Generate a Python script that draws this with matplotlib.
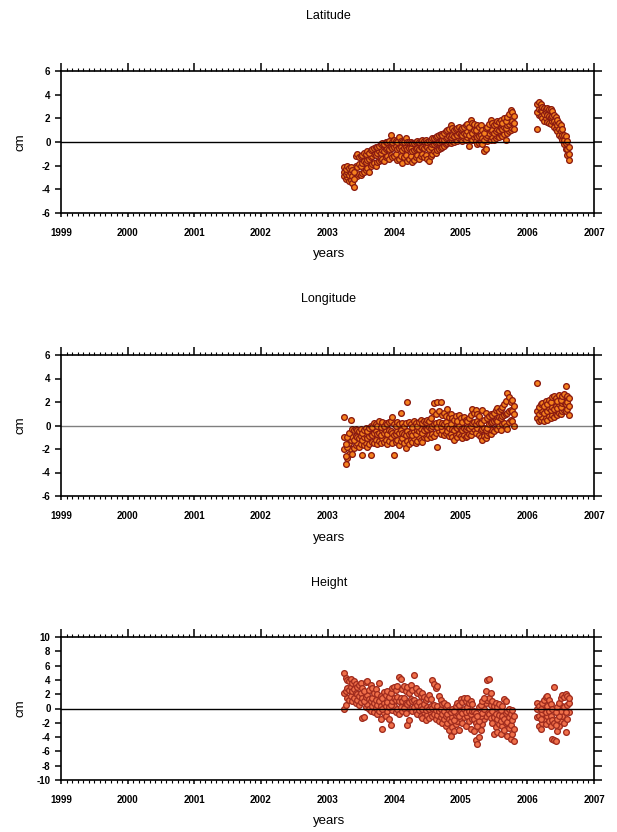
import numpy as np
import matplotlib
matplotlib.use("Agg")
import matplotlib.pyplot as plt
from matplotlib.ticker import MultipleLocator

plt.rcParams['font.family'] = ['Liberation Sans', 'DejaVu Sans']
plt.rcParams['axes.unicode_minus'] = False

# ---------------- data (decimal years, cm) ----------------
t_a = [2003.250 + 0.025 * i for i in range(103)]   # 2003.25 .. 2005.80
t_b = [2006.150 + 0.025 * i for i in range(20)]    # 2006.15 .. 2006.625

lat_a_low = [-2.9,-3.1,-3.0,-3.3,-3.2,-3.5,-3.8,-2.8,-2.9,-2.7,
             -2.8,-2.6,-2.5,-2.4,-2.2,-2.5,-2.0,-1.9,-1.8,-2.0,
             -1.7,-1.6,-1.5,-1.4,-1.6,-1.3,-1.2,-1.4,-1.1,-1.3,
             -1.2,-1.0,-1.5,-1.4,-1.2,-1.8,-1.3,-1.1,-1.6,-1.4,
             -1.2,-1.7,-1.5,-1.3,-1.1,-1.4,-1.2,-1.0,-1.3,-1.1,
             -1.4,-1.6,-1.2,-1.0,-0.8,-0.9,-0.7,-0.6,-0.5,-0.4,
             -0.3,-0.2,-0.1,0.0,-0.1,0.1,0.0,0.2,0.1,0.3,
             0.2,0.1,0.3,0.2,0.4,-0.3,0.3,0.2,0.4,0.1,
             -0.2,-0.1,0.0,-0.2,-0.8,-0.6,0.1,0.3,0.2,0.4,
             0.2,0.3,0.5,0.4,0.6,0.5,0.7,0.2,0.8,0.9,
             1.0,1.2,1.1]
lat_a_mid = [-2.5,-2.7,-2.5,-2.8,-2.6,-2.9,-3.1,-2.0,-2.1,-1.9,
             -2.0,-1.8,-1.6,-1.7,-1.5,-1.4,-1.3,-1.2,-1.0,-1.1,
             -0.9,-0.8,-0.9,-0.7,-0.8,-0.6,-0.5,-0.6,-0.4,-0.5,
             -0.4,-0.3,-0.6,-0.5,-0.4,-0.7,-0.5,-0.4,-0.6,-0.5,
             -0.5,-0.8,-0.7,-0.6,-0.5,-0.6,-0.4,-0.4,-0.5,-0.3,
             -0.4,-0.6,-0.4,-0.2,-0.2,-0.1,0.0,0.0,0.1,0.2,
             0.2,0.3,0.4,0.5,0.4,0.6,0.5,0.7,0.6,0.8,
             0.7,0.6,0.8,0.7,0.9,0.6,1.0,0.8,1.0,0.5,
             0.4,0.5,0.6,0.3,0.2,0.4,0.6,0.8,0.9,1.0,
             0.8,0.9,1.1,1.0,1.2,1.1,1.3,1.2,1.4,1.5,
             1.7,1.8,1.6]
lat_a_high = [-2.1,-2.3,-2.0,-2.2,-2.1,-2.4,-2.5,-1.2,-1.0,-1.3,
              -1.2,-1.1,-0.9,-1.0,-0.8,-0.9,-0.7,-0.6,-0.5,-0.4,
              -0.4,-0.3,-0.2,-0.1,-0.2,0.0,0.0,0.1,0.6,0.0,
              0.2,0.1,0.0,0.4,0.1,0.0,0.0,0.3,0.0,0.0,
              0.0,-0.1,-0.1,0.0,0.1,0.0,0.1,0.2,0.1,0.2,
              0.0,0.1,0.2,0.3,0.3,0.4,0.5,0.6,0.7,0.6,
              0.8,0.9,1.0,1.1,1.4,1.2,1.0,1.1,1.2,1.3,
              1.1,1.2,1.3,1.4,1.5,1.3,1.9,1.6,1.5,1.0,
              1.4,1.3,1.4,1.0,0.8,1.2,1.3,1.5,1.9,1.6,
              1.4,1.5,1.8,1.7,1.9,1.6,2.0,1.8,2.1,2.4,
              2.7,2.5,2.2]
lat_b_low = [1.1,2.3,2.2,2.0,1.8,2.0,1.7,1.6,1.5,1.8,
             1.3,1.1,0.9,0.6,0.4,0.2,-0.2,-0.6,-1.1,-1.5]
lat_b_mid = [2.5,2.8,2.7,2.6,2.4,2.5,2.3,2.2,2.1,2.2,
             1.8,1.6,1.4,1.1,0.9,0.6,0.2,-0.1,-0.6,-1.0]
lat_b_high = [3.2,3.4,3.2,3.0,2.9,2.8,2.9,2.8,2.8,2.6,
              2.3,2.1,1.9,1.6,1.4,1.1,0.6,0.5,0.1,-0.4]

lon_a_low = [-2.0,-3.3,-2.8,-2.4,-2.0,-2.4,-1.9,-1.7,-1.5,-1.8,
             -1.6,-2.5,-1.7,-1.5,-1.8,-1.6,-2.5,-1.4,-1.5,-1.2,
             -1.6,-1.3,-1.5,-1.1,-1.4,-1.2,-1.6,-1.3,-1.0,-1.5,
             -2.5,-1.4,-1.2,-1.7,-1.3,-1.1,-1.5,-1.9,-1.3,-1.6,
             -1.2,-1.4,-1.1,-1.5,-1.3,-1.0,-1.2,-1.4,-1.0,-0.9,
             -1.1,-0.8,-1.0,-0.7,-0.9,-0.6,-1.8,-0.5,-0.7,-0.4,
             -0.8,-0.6,-0.5,-0.9,-0.7,-1.0,-1.2,-0.8,-1.0,-0.7,
             -0.9,-1.1,-0.8,-1.0,-0.9,-0.7,-0.8,-0.5,-0.3,-0.6,
             -0.2,-0.8,-1.0,-1.2,-0.9,-1.1,-0.8,-0.6,-0.7,-0.4,
             -0.5,-0.2,-0.3,0.0,-0.4,0.1,0.2,0.0,-0.3,0.3,
             0.5,0.4,0.0]
lon_a_mid = [-1.0,-2.6,-1.8,-1.5,-1.2,-1.0,-1.2,-0.9,-1.0,-1.1,
             -0.9,-1.2,-1.0,-0.8,-1.1,-0.9,-0.7,-0.8,-0.6,-0.5,
             -0.7,-0.6,-0.8,-0.4,-0.6,-0.5,-0.7,-0.4,-0.5,-0.6,
             -0.8,-0.7,-0.5,-0.6,-0.4,-0.6,-0.7,-0.8,-0.5,-0.7,
             -0.6,-0.8,-0.5,-0.7,-0.4,-0.5,-0.3,-0.6,-0.4,-0.2,
             -0.3,-0.1,-0.2,0.0,0.1,0.2,-0.1,0.3,0.0,0.2,
             0.1,0.3,0.0,-0.2,0.1,-0.3,-0.4,-0.1,-0.2,0.0,
             -0.3,-0.4,-0.2,-0.3,-0.1,-0.2,0.0,0.2,0.3,0.1,
             0.4,0.2,-0.4,-0.3,-0.2,-0.4,-0.2,0.1,0.2,0.3,
             0.4,0.5,0.4,0.7,0.6,0.8,0.9,1.0,1.1,1.2,
             1.3,1.2,1.0]
lon_a_high = [0.7,-1.6,-1.0,-0.6,0.5,-0.3,-0.4,-0.3,-0.4,-0.5,
              -0.3,-0.6,-0.4,-0.2,-0.5,-0.2,0.0,-0.1,0.2,0.1,
              0.0,0.4,-0.1,0.3,0.0,0.2,0.1,0.3,0.4,0.7,
              0.1,0.0,0.3,0.1,1.1,0.2,0.0,0.2,2.0,0.3,
              0.1,-0.1,0.4,0.2,0.0,0.3,0.5,0.2,0.4,0.3,
              0.5,0.4,0.6,1.2,1.9,1.0,2.0,1.2,2.0,0.9,
              1.1,0.8,1.4,0.7,1.0,0.6,0.5,0.8,0.4,0.9,
              0.6,0.3,0.7,0.5,0.4,0.6,0.9,1.4,1.1,1.3,
              1.0,0.8,0.2,1.3,0.5,1.1,0.6,0.8,1.0,0.9,
              1.1,1.3,1.5,1.2,1.4,1.6,1.8,2.1,2.8,2.4,
              2.0,2.2,1.7]
lon_b_low = [0.6,0.4,0.5,0.7,0.4,0.6,0.5,0.8,0.6,0.9,
             0.7,1.0,0.9,1.1,1.0,1.2,1.3,1.2,1.4,0.9]
lon_b_mid = [1.2,1.0,1.2,1.3,1.1,1.4,1.2,1.5,1.3,1.6,
             1.4,1.7,1.5,1.8,1.6,1.9,2.0,1.8,2.0,1.7]
lon_b_high = [3.6,1.6,1.8,1.9,1.7,2.1,1.8,2.2,2.0,2.4,
              2.5,2.3,2.1,2.6,2.2,2.5,2.7,3.4,2.5,2.3]

hgt_a_low = [0.0,0.5,1.5,1.2,1.8,1.0,1.4,0.8,1.2,0.5,
             0.9,-1.3,-1.2,0.2,0.6,0.0,-0.4,0.3,-0.5,0.1,
             -0.8,-0.3,-1.5,-2.9,-0.6,-1.0,-0.4,-1.4,-2.3,-0.2,
             0.3,-0.5,0.0,-0.8,0.2,-0.3,0.1,-0.6,-2.3,-1.6,
             0.0,-0.4,0.2,-0.3,-0.8,-0.2,-1.0,-1.3,-0.5,-1.6,
             -0.9,-1.3,-0.6,-1.1,-0.7,-1.5,-0.9,-1.8,-1.2,-2.0,
             -1.5,-2.4,-2.0,-3.0,-3.8,-2.6,-3.2,-2.2,-1.8,-3.0,
             -1.5,-2.0,-1.2,-2.5,-1.0,-1.8,-2.8,-1.5,-3.2,-4.4,
             -4.9,-4.0,-3.0,-2.2,-1.5,-1.0,-0.5,-0.8,-1.3,-2.0,
             -3.6,-2.6,-3.3,-2.2,-3.5,-2.4,-3.0,-2.0,-3.8,-2.7,
             -4.2,-3.5,-4.5]
hgt_a_mid = [2.2,2.5,2.8,2.6,3.0,2.4,2.7,2.2,2.0,1.8,
             2.1,1.5,1.0,1.6,1.9,1.3,1.0,1.5,0.8,1.2,
             0.5,1.0,0.3,0.0,0.7,0.4,0.9,0.2,0.5,1.1,
             1.5,1.2,1.6,1.0,1.4,1.1,1.5,0.8,0.6,0.9,
             1.3,1.0,1.2,0.7,0.5,0.9,0.3,0.0,0.6,-0.2,
             0.2,0.0,0.4,0.1,0.5,-0.2,0.3,-0.4,0.0,-0.7,
             -0.3,-1.0,-0.8,-1.5,-1.8,-1.2,-1.6,-0.9,-0.6,-1.0,
             -0.3,-0.6,0.0,-0.5,0.2,-0.4,-0.8,-0.3,-1.5,-2.0,
             -2.5,-1.8,-1.0,-0.6,0.0,0.8,1.2,1.5,0.5,-0.4,
             -1.2,-0.8,-1.5,-0.9,-1.8,-1.0,-1.4,-0.6,-1.9,-1.2,
             -2.3,-1.6,-2.8]
hgt_a_high = [4.9,4.3,4.0,3.8,4.1,3.6,3.9,3.4,3.0,3.3,
              3.5,2.8,2.5,3.7,3.9,2.6,3.3,2.9,2.2,2.7,
              2.0,3.6,1.8,1.5,2.3,1.9,2.5,1.6,2.1,2.8,
              3.0,2.6,3.2,4.4,4.1,2.7,3.1,2.4,3.0,2.2,
              3.3,2.6,4.7,2.8,2.1,2.5,1.8,2.2,1.6,1.2,
              1.5,1.9,1.3,4.0,3.4,2.8,3.2,1.8,1.2,0.6,
              0.8,0.2,0.5,-0.2,-0.5,0.0,-0.3,0.4,0.8,0.5,
              1.3,0.9,1.4,1.0,1.5,0.8,1.0,0.6,-0.3,-0.6,
              -1.0,0.2,0.5,1.0,1.5,2.5,4.0,4.1,2.2,1.0,
              0.4,0.8,0.2,0.6,-0.2,0.3,1.3,1.0,-0.4,0.0,
              -0.8,-0.2,-1.1]
hgt_b_low = [-1.2,-2.5,-2.8,-2.0,-1.5,-2.2,-1.0,-1.8,-2.5,-4.2,
             -4.4,-4.5,-3.2,-2.5,-1.8,-1.0,-2.0,-3.3,-1.5,-0.5]
hgt_b_mid = [0.0,-1.0,-1.5,-0.6,-0.2,-0.5,0.3,-0.4,-1.0,-1.6,
             -2.0,-2.3,-1.5,-1.0,-0.3,0.4,0.2,-0.5,0.5,0.8]
hgt_b_high = [0.8,0.3,0.0,0.7,1.2,1.6,1.8,1.2,0.6,0.0,
              3.0,-0.5,0.2,0.8,1.4,1.9,1.6,2.0,1.8,1.5]

titles = ["Latitude", "Longitude", "Height"]
x_ticks = [1999, 2000, 2001, 2002, 2003, 2004, 2005, 2006, 2007]
y_ranges = [(-6, 6), (-6, 6), (-10, 10)]

panels = [
    (lat_a_low, lat_a_mid, lat_a_high, lat_b_low, lat_b_mid, lat_b_high),
    (lon_a_low, lon_a_mid, lon_a_high, lon_b_low, lon_b_mid, lon_b_high),
    (hgt_a_low, hgt_a_mid, hgt_a_high, hgt_b_low, hgt_b_mid, hgt_b_high),
]

# ---------------- layout ----------------
W, H = 617, 832
fig = plt.figure(figsize=(W / 100, H / 100), dpi=100)
left_px, right_px = 61, 594
boxes = [(71, 213), (355, 496), (637, 780)]       # top, bottom pixel rows
title_y = [16, 299, 583]
xlabel_y = [254, 538, 821]

face = ['#f5821e', '#f5821e', '#f0704a']
edge = ['#8a1a10', '#8a1a10', '#a02c1e']
zero_color = ['black', (0, 0, 0, 0.5), 'black']

for k, (top, bot) in enumerate(boxes):
    ax = fig.add_axes([left_px / W, 1 - bot / H, (right_px - left_px) / W, (bot - top) / H])
    a_lo, a_mi, a_hi, b_lo, b_mi, b_hi = panels[k]
    xs = t_a * 3 + t_b * 3
    ys = a_lo + a_mi + a_hi + b_lo + b_mi + b_hi
    ax.scatter(xs, ys, s=17, c=face[k], edgecolors=edge[k], linewidths=0.95, zorder=2)
    ax.axhline(0, color=zero_color[k], lw=1.0, zorder=3)

    ax.set_xlim(1999, 2007)
    ax.set_ylim(*y_ranges[k])
    ax.set_xticks(x_ticks)
    ax.set_xticklabels([str(v) for v in x_ticks])
    ax.xaxis.set_minor_locator(MultipleLocator(1 / 12))
    ax.yaxis.set_major_locator(MultipleLocator(2))
    ax.tick_params(axis='x', which='major', direction='out', length=3, width=1.1,
                   top=True, bottom=True, labelsize=7, pad=7.5)
    ax.tick_params(axis='x', which='minor', direction='out', length=2.2, width=0.8,
                   top=True, bottom=True)
    ax.tick_params(axis='y', which='major', direction='out', length=4, width=1.1,
                   left=True, right=True, labelsize=7, pad=3.5)
    for tl in ax.xaxis.get_major_ticks():
        tl.tick2line.set_markersize(6)
    for tl in ax.yaxis.get_major_ticks():
        tl.tick2line.set_markersize(6)
    for lab in ax.get_xticklabels() + ax.get_yticklabels():
        lab.set_fontweight('bold')
    for sp in ax.spines.values():
        sp.set_linewidth(1.2)
        sp.set_color('black')

    cx = 0.5 * (left_px + right_px) / W + 0.002
    fig.text(cx, 1 - title_y[k] / H, titles[k], ha='center', va='center', fontsize=9)
    fig.text(cx, 1 - xlabel_y[k] / H, "years", ha='center', va='center', fontsize=9.5)
    fig.text(20 / W, 1 - (top + bot) / 2 / H, "cm", ha='center', va='center',
             rotation=90, fontsize=9.5)

fig.savefig("out.png", dpi=100)
